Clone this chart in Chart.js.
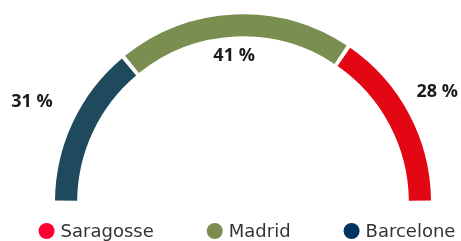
<!DOCTYPE html>
<html><head><meta charset="utf-8">
<script src="https://cdn.jsdelivr.net/npm/chart.js@4/dist/chart.umd.min.js"></script>
<style>html,body{margin:0;padding:0;background:#fff;}#wrap{width:461px;height:241px;position:relative;}</style>
</head><body><div id="wrap"><canvas id="c"></canvas></div>
<script>
// Arc order (left to right): Barcelone, Madrid, Saragosse
const categories = ['Barcelone', 'Madrid', 'Saragosse'];
const shares = [28, 41, 31];
const arcColors = ['#1f495d', '#7a8f4f', '#e30613'];
const legendColors = ['#00335f', '#7a8c4e', '#ff0033'];

const labelFont = 'bold 18px "Open Sans", sans-serif';
const legendFont = '18px "DejaVu Sans", sans-serif';

const shareLabels = {
  id: 'shareLabels',
  afterDatasetsDraw(chart) {
    const ctx = chart.ctx;
    const meta = chart.getDatasetMeta(0);
    const vals = chart.data.datasets[0].data;
    const n = vals.length;
    ctx.save();
    ctx.font = labelFont;
    ctx.fillStyle = '#1a1a1a';
    ctx.textAlign = 'center';
    ctx.textBaseline = 'middle';
    meta.data.forEach((arc, i) => {
      const p = arc.getProps(['x', 'y', 'startAngle', 'endAngle', 'innerRadius', 'outerRadius'], true);
      const mid = (p.startAngle + p.endAngle) / 2;
      let r, dx = 0, dy = 0;
      if (i === 0 || i === n - 1) { r = p.outerRadius + 42; dx = -6; dy = -4; }
      else { r = p.innerRadius - 16; dx = -2; }
      // the reference shows the two side labels swapped
      const text = vals[n - 1 - i] + ' %';
      ctx.fillText(text, p.x + Math.cos(mid) * r + dx, p.y + Math.sin(mid) * r + dy);
    });
    ctx.restore();
  }
};

const bottomLegend = {
  id: 'bottomLegend',
  afterDraw(chart) {
    const ctx = chart.ctx;
    const meta = chart.getDatasetMeta(0);
    const cx = meta.data[0].x;
    const order = categories.map((_, i) => i).reverse();
    const dot = 8, gapText = 6, gapItem = 53, y = 231;
    ctx.save();
    ctx.font = legendFont;
    ctx.textBaseline = 'middle';
    ctx.textAlign = 'left';
    const widths = order.map(i => 2 * dot + gapText + ctx.measureText(categories[i]).width);
    const total = widths.reduce((a, b) => a + b, 0) + gapItem * (order.length - 1);
    let x = cx + 4 - total / 2;
    order.forEach((i, k) => {
      ctx.fillStyle = legendColors[i];
      ctx.beginPath();
      ctx.arc(x + dot, y, dot, 0, Math.PI * 2);
      ctx.fill();
      ctx.fillStyle = '#333333';
      ctx.fillText(categories[i], x + 2 * dot + gapText, y + 1);
      x += widths[k] + gapItem;
    });
    ctx.restore();
  }
};

new Chart(document.getElementById('c'), {
  type: 'doughnut',
  data: {
    labels: categories,
    datasets: [{
      data: shares,
      backgroundColor: arcColors,
      borderWidth: 0,
      spacing: 7,
      radius: 184.5
    }]
  },
  options: {
    responsive: true,
    maintainAspectRatio: false,
    animation: false,
    rotation: -90,
    circumference: 180,
    cutout: '88%',
    layout: { padding: { top: 19, bottom: 40, left: 25, right: 0 } },
    plugins: { legend: { display: false }, tooltip: { enabled: false } }
  },
  plugins: [shareLabels, bottomLegend]
});
</script></body></html>
